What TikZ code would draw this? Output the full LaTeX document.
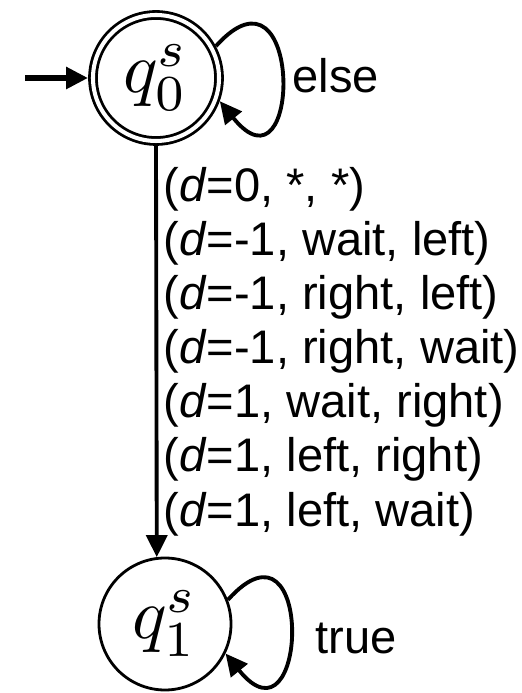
\documentclass[tikz,border=0pt]{standalone}
\usepackage{graphicx}
\usepackage{fontspec}
\newfontfamily\sflab{Liberation Sans}
\usetikzlibrary{arrows.meta}
\newcommand{\qlab}[1]{\scalebox{4.1}{$q_{#1}^s$}}

\begin{document}
\begin{tikzpicture}[
  every node/.style={font=\fontsize{26.8}{30.8}\selectfont\sflab},
  state/.style={circle, draw, line width=1.6pt, minimum size=2.64cm, inner sep=0pt, font=\normalsize},
  accepting/.style={double, double distance=2.3pt, minimum size=2.52cm, outer sep=2.8pt},
  trans/.style={line width=2.2pt, -{Triangle[length=0.44cm, width=0.42cm]}}
]
  \useasboundingbox (0,0) rectangle (10.42,13.86);
  % States
  \node[state, accepting] (q0) at (3.12,12.30) {\qlab{0}};
  \node[state] (q1) at (3.30,1.38) {\qlab{1}};
  \coordinate (start) at (0.5,12.30);
  % Initial arrow
  \draw[trans, line width=3.2pt] (start) -- (q0);
  % Self loops
  \draw[trans] (q0.28) .. controls +(1.75,1.95) and +(1.65,-2.05) .. (q0.-20)
    node[pos=0.5, right, inner sep=5pt] (lelse) {else};
  \draw[trans] (q1.21) .. controls +(1.75,1.95) and +(1.65,-2.05) .. (q1.-26)
    node[pos=0.5, right, inner sep=13pt, yshift=-0.2cm] (ltrue) {true};
  % q0 -> q1
  \draw[trans] (q0.south) -- (q1.97)
    node[midway, right, inner sep=3pt, align=left] (lcond) {(\textit{d}=0, *, *)\\
      (\textit{d}=-1, wait, left)\\
      (\textit{d}=-1, right, left)\\
      (\textit{d}=-1, right, wait)\\
      (\textit{d}=1, wait, right)\\
      (\textit{d}=1, left, right)\\
      (\textit{d}=1, left, wait)};
\end{tikzpicture}
\end{document}
